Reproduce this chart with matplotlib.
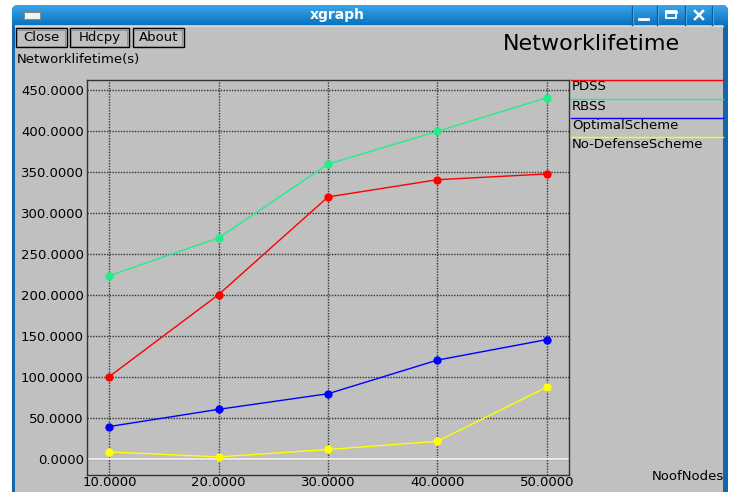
import numpy as np
import matplotlib
matplotlib.use('Agg')
import matplotlib.pyplot as plt
from matplotlib.patches import Rectangle, FancyBboxPatch

plt.rcParams['font.family'] = ['DejaVu Sans']

# data: network lifetime (s) against number of nodes
nodes = [10, 20, 30, 40, 50]
pdss = [101, 201, 320, 341, 348]
rbss = [224, 270, 360, 400, 441]
optimal = [40, 61, 80, 121, 146]
no_defense = [9, 3, 12, 22, 88]

series_names = ['PDSS', 'RBSS', 'OptimalScheme', 'No-DefenseScheme']
series_values = [pdss, rbss, optimal, no_defense]
series_colors = ['#ff0000', '#22ee88', '#0000ff', '#ffff00']

x_ticks = [10, 20, 30, 40, 50]
y_ticks = [0, 50, 100, 150, 200, 250, 300, 350, 400, 450]

W, H = 735, 492
GRAY = '#c0c0c0'
fs = 9.5

fig = plt.figure(figsize=(W / 100, H / 100), dpi=100)
fig.patch.set_facecolor('white')

# window chrome, drawn in pixel coordinates
bg = fig.add_axes([0, 0, 1, 1], zorder=0)
bg.set_xlim(0, W)
bg.set_ylim(H, 0)
bg.axis('off')

frame = FancyBboxPatch((12, 5), 716, H + 20, boxstyle='round,pad=0,rounding_size=6',
                       facecolor='#1466a8', edgecolor='none')
bg.add_patch(frame)
bg.add_patch(Rectangle((15, 25), 708, H, facecolor=GRAY, edgecolor='none', zorder=2))

grad = np.linspace(0, 1, 40).reshape(-1, 1)
cmap = matplotlib.colors.LinearSegmentedColormap.from_list('bar', ['#3aa6e8', '#0a72c0'])
im = bg.imshow(grad, cmap=cmap, extent=[12, 728, 25, 5], aspect='auto', zorder=1)
im.set_clip_path(frame)
bg.plot([15, 723], [25.5, 25.5], color='#d8d8d8', lw=1, zorder=2)

bg.add_patch(Rectangle((24, 12), 16, 7, facecolor='#f4f4f4', edgecolor='#888888', lw=0.8, zorder=3))
bg.text(337, 15, 'xgraph', color='white', fontsize=10, fontweight='bold',
        ha='center', va='center', zorder=3)

for sx in [632, 657, 685, 712]:
    bg.plot([sx, sx], [6, 25], color='#0b5a96', lw=1, zorder=3)
    bg.plot([sx + 1, sx + 1], [6, 25], color='#4fb0ea', lw=0.6, zorder=3)
bg.plot([639, 648], [19, 19], color='white', lw=2, zorder=3)
bg.add_patch(Rectangle((666, 11), 10, 7, facecolor='none', edgecolor='white', lw=1.3, zorder=3))
bg.plot([666, 676], [11.5, 11.5], color='white', lw=2, zorder=3)
bg.plot([695, 703], [11, 19], color='white', lw=1.8, zorder=3)
bg.plot([695, 703], [19, 11], color='white', lw=1.8, zorder=3)

# buttons
for label, x0, x1 in [('Close', 16, 67), ('Hdcpy', 70, 129), ('About', 133, 184)]:
    bg.add_patch(Rectangle((x0, 28), x1 - x0, 19, facecolor=GRAY, edgecolor='black', lw=1, zorder=3))
    bg.add_patch(Rectangle((x0 + 1.5, 29.5), x1 - x0 - 3, 16, facecolor='none',
                           edgecolor='#8a8a8a', lw=0.6, zorder=3))
    bg.text((x0 + x1) / 2, 37.5, label, fontsize=fs, ha='center', va='center', zorder=4)

bg.text(591, 44, 'Networklifetime', fontsize=16, ha='center', va='center', zorder=3)
bg.text(17, 60, 'Networklifetime(s)', fontsize=fs, ha='left', va='center', zorder=3)
bg.text(724, 477, 'NoofNodes', fontsize=fs, ha='right', va='center', zorder=3)

# legend
for i, (name, color) in enumerate(zip(series_names, series_colors)):
    ly = 80 + i * 19
    bg.plot([571, 723], [ly, ly], color=color, lw=1, zorder=3)
    bg.text(572, ly + 0.5, name, fontsize=fs, ha='left', va='top', zorder=3)

# plot area
left, right, top, bottom = 86.7, 569, 80, 475
ax = fig.add_axes([left / W, 1 - bottom / H, (right - left) / W, (bottom - top) / H], zorder=1)
ax.set_facecolor('none')
ax.set_xlim(7.93, 52.04)
ax.set_ylim(-19.1, 462.6)

ax.set_xticks(x_ticks)
ax.set_xticklabels([f'{v:.4f}' for v in x_ticks])
ax.set_yticks(y_ticks)
ax.set_yticklabels([f'{v:.4f}' for v in y_ticks])
ax.tick_params(length=0, labelsize=fs, pad=2)
ax.tick_params(axis='x', pad=1)
ax.grid(True, linestyle=(0, (1, 1)), color='#333333', lw=1)
for sp in ax.spines.values():
    sp.set_linestyle((0, (1, 1)))
    sp.set_color('#333333')
    sp.set_linewidth(1)

ax.axhline(0, color='#e8e8e8', lw=1.5, zorder=2)

for vals, color in zip(series_values, series_colors):
    ax.plot(nodes, vals, color=color, lw=1, marker='o', markersize=6,
            markeredgewidth=0, zorder=3)

fig.savefig('out.png', dpi=100, facecolor='white')
